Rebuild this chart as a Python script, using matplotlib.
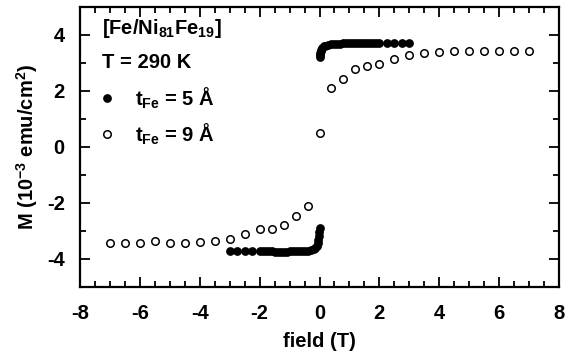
import matplotlib
matplotlib.use("Agg")
import matplotlib.pyplot as plt
from matplotlib.ticker import MultipleLocator

plt.rcParams['font.family'] = ['Liberation Sans', 'DejaVu Sans']
plt.rcParams['font.weight'] = 'bold'
plt.rcParams['axes.unicode_minus'] = False
plt.rcParams['mathtext.fontset'] = 'custom'
plt.rcParams['mathtext.rm'] = 'Liberation Sans:bold'
plt.rcParams['mathtext.bf'] = 'Liberation Sans:bold'
plt.rcParams['mathtext.it'] = 'Liberation Sans:bold'
plt.rcParams['mathtext.default'] = 'bf'

# t_Fe = 5 A (filled)
field_5_neg = [-3.0, -2.75, -2.5, -2.25, -2.0, -1.9, -1.8, -1.7, -1.6, -1.5, -1.4, -1.3, -1.2,
               -1.1, -1.0, -0.9, -0.8, -0.7, -0.6, -0.5, -0.4, -0.3, -0.2, -0.15, -0.1,
               -0.06, -0.04, -0.02, -0.01, 0.0]
m_5_neg = [-3.72, -3.72, -3.72, -3.73, -3.73, -3.73, -3.73, -3.73, -3.73, -3.74, -3.74, -3.74, -3.74,
           -3.74, -3.73, -3.73, -3.73, -3.72, -3.72, -3.71, -3.70, -3.68, -3.64, -3.59, -3.52,
           -3.42, -3.32, -3.17, -3.02, -2.88]
field_5_pos = [0.0, 0.01, 0.02, 0.04, 0.06, 0.1, 0.15, 0.2, 0.3, 0.4, 0.5, 0.6, 0.7, 0.8, 0.9,
               1.0, 1.1, 1.2, 1.3, 1.4, 1.5, 1.6, 1.7, 1.8, 1.9, 2.0, 2.25, 2.5, 2.75, 3.0]
m_5_pos = [3.22, 3.28, 3.34, 3.42, 3.48, 3.54, 3.59, 3.62, 3.65, 3.67, 3.68, 3.69, 3.69, 3.70, 3.70,
           3.70, 3.71, 3.71, 3.71, 3.71, 3.71, 3.71, 3.71, 3.71, 3.71, 3.71, 3.70, 3.70, 3.70, 3.70]

# t_Fe = 9 A (open)
field_9 = [-7.0, -6.5, -6.0, -5.5, -5.0, -4.5, -4.0, -3.5, -3.0, -2.5, -2.0, -1.6, -1.2, -0.8, -0.4,
           0.0, 0.4, 0.8, 1.2, 1.6, 2.0, 2.5, 3.0, 3.5, 4.0, 4.5, 5.0, 5.5, 6.0, 6.5, 7.0]
m_9 = [-3.43, -3.43, -3.43, -3.36, -3.43, -3.43, -3.41, -3.36, -3.27, -3.12, -2.94, -2.92, -2.80, -2.46, -2.12,
       0.50, 2.09, 2.42, 2.77, 2.90, 2.95, 3.13, 3.27, 3.35, 3.41, 3.42, 3.42, 3.42, 3.42, 3.42, 3.42]

FS = 14.5
fig = plt.figure(figsize=(5.66, 3.59), dpi=100)
ax = fig.add_axes([80/566, 1-287/359, (559-80)/566, (287-7)/359])

ax.plot(field_5_neg, m_5_neg, 'o', color='black', markersize=6.3, markeredgewidth=0)
ax.plot(field_5_pos, m_5_pos, 'o', color='black', markersize=6.3, markeredgewidth=0)
ax.plot(field_9, m_9, 'o', markerfacecolor='white', markeredgecolor='black', markersize=5.4, markeredgewidth=1.1)

ax.set_xlim(-8, 8)
ax.set_ylim(-5, 5)
ax.xaxis.set_major_locator(MultipleLocator(2))
ax.xaxis.set_minor_locator(MultipleLocator(0.5))
ax.yaxis.set_major_locator(MultipleLocator(2))
ax.yaxis.set_minor_locator(MultipleLocator(1))
ax.tick_params(which='both', direction='in', top=True, right=True, width=1.3)
ax.tick_params(which='major', length=7.5, labelsize=FS)
ax.tick_params(axis='x', which='major', pad=12)
ax.tick_params(axis='y', which='major', pad=11)
ax.tick_params(which='minor', length=4)
for s in ax.spines.values():
    s.set_linewidth(1.6)
for lab in ax.get_xticklabels() + ax.get_yticklabels():
    lab.set_fontweight('bold')

ax.set_xlabel('field (T)', fontsize=FS, fontweight='bold', labelpad=7)
ax.set_ylabel(r'M (10$^{-3}$ emu/cm$^{2}$)', fontsize=FS, fontweight='bold', labelpad=5)

ax.text(0.045, 0.925, r'[Fe/Ni$_{81}$Fe$_{19}$]', transform=ax.transAxes, fontsize=FS,
        fontweight='bold', va='center', ha='left')
ax.text(0.045, 0.80, 'T = 290 K', transform=ax.transAxes, fontsize=FS,
        fontweight='bold', va='center', ha='left')
ax.plot([0.057], [0.675], 'o', transform=ax.transAxes, color='black', markersize=6.3, markeredgewidth=0)
ax.text(0.115, 0.675, r't$_{Fe}$ = 5 Å', transform=ax.transAxes, fontsize=FS,
        fontweight='bold', va='center', ha='left')
ax.plot([0.057], [0.545], 'o', transform=ax.transAxes, markerfacecolor='white', markeredgecolor='black',
        markersize=5.4, markeredgewidth=1.1)
ax.text(0.115, 0.545, r't$_{Fe}$ = 9 Å', transform=ax.transAxes, fontsize=FS,
        fontweight='bold', va='center', ha='left')

fig.savefig('out.png', dpi=100)
